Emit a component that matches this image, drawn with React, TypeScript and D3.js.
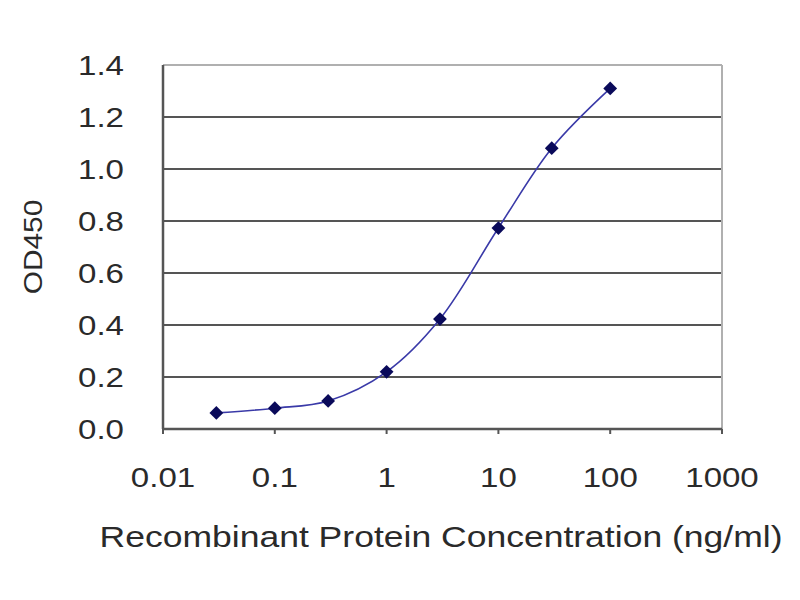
import * as d3 from "d3";

const concentrations = [0.03, 0.1, 0.3, 1, 3, 10, 30, 100];
const od450 = [0.062, 0.08, 0.108, 0.22, 0.423, 0.773, 1.08, 1.31];
const xTicks = [0.01, 0.1, 1, 10, 100, 1000];
const xTickLabels = ["0.01", "0.1", "1", "10", "100", "1000"];
const yTicks = [0, 0.2, 0.4, 0.6, 0.8, 1.0, 1.2, 1.4];

const W = 800;
const H = 600;
const plot = { left: 163, right: 722, top: 65, bottom: 429 };
const FONT = "Arial, 'Liberation Sans', Helvetica, sans-serif";
const TXT = "#2a2a2a";
// the reference lettering is stretched sideways
const STRETCH = 1.18;

export default function App() {
	const x = d3.scaleLog().domain([0.01, 1000]).range([plot.left, plot.right]);
	const y = d3.scaleLinear().domain([0, 1.4]).range([plot.bottom, plot.top]);

	const points = concentrations.map((c, i) => [x(c), y(od450[i])] as [number, number]);
	const line = d3.line().curve(d3.curveCatmullRom.alpha(0.5))(points) ?? "";
	const marker = d3.symbol().type(d3.symbolSquare).size(95)() ?? "";

	return (
		<svg
			width={W}
			height={H}
			style={{ position: "absolute", left: 0, top: 0, background: "#fff" }}
		>
			<rect x={0} y={0} width={W} height={H} fill="#fff" />

			{/* gridlines */}
			{yTicks.slice(1, -1).map((t) => (
				<line
					key={t}
					x1={plot.left}
					x2={plot.right}
					y1={y(t)}
					y2={y(t)}
					stroke="#555"
					strokeWidth={2}
				/>
			))}

			{/* frame: light top/right, dark left/bottom */}
			<line x1={plot.left} x2={plot.right} y1={plot.top} y2={plot.top} stroke="#b0b0b0" strokeWidth={2} />
			<line x1={plot.right} x2={plot.right} y1={plot.top} y2={plot.bottom} stroke="#b0b0b0" strokeWidth={2} />
			<line x1={plot.left} x2={plot.left} y1={plot.top} y2={plot.bottom} stroke="#555" strokeWidth={2.5} />
			<line x1={plot.left} x2={plot.right} y1={plot.bottom} y2={plot.bottom} stroke="#555" strokeWidth={2.5} />

			{/* x ticks */}
			{xTicks.map((t) => (
				<line key={t} x1={x(t)} x2={x(t)} y1={plot.bottom} y2={plot.bottom + 5} stroke="#555" strokeWidth={2} />
			))}

			{/* y tick labels */}
			{yTicks.map((t) => (
				<text
					key={t}
					transform={`translate(124,${y(t)}) scale(${STRETCH},1)`}
					dy="0.36em"
					textAnchor="end"
					fontFamily={FONT}
					fontSize={28}
					fill={TXT}
				>
					{t.toFixed(1)}
				</text>
			))}

			{/* x tick labels */}
			{xTicks.map((t, i) => (
				<text
					key={t}
					transform={`translate(${x(t)},487) scale(${STRETCH},1)`}
					textAnchor="middle"
					fontFamily={FONT}
					fontSize={28}
					fill={TXT}
				>
					{xTickLabels[i]}
				</text>
			))}

			{/* axis titles */}
			<text
				transform={`translate(42,${(plot.top + plot.bottom) / 2}) rotate(-90) scale(1.15,1)`}
				textAnchor="middle"
				fontFamily={FONT}
				fontSize={26}
				fill={TXT}
			>
				OD450
			</text>
			<text
				x={441}
				y={547}
				textAnchor="middle"
				fontFamily={FONT}
				fontSize={29}
				textLength={683}
				lengthAdjust="spacingAndGlyphs"
				fill={TXT}
			>
				Recombinant Protein Concentration (ng/ml)
			</text>

			{/* curve and markers */}
			<path d={line} fill="none" stroke="#3a3aa8" strokeWidth={1.6} />
			{points.map(([px, py], i) => (
				<path key={i} d={marker} transform={`translate(${px},${py}) rotate(45)`} fill="#0a0a5a" />
			))}
		</svg>
	);
}
